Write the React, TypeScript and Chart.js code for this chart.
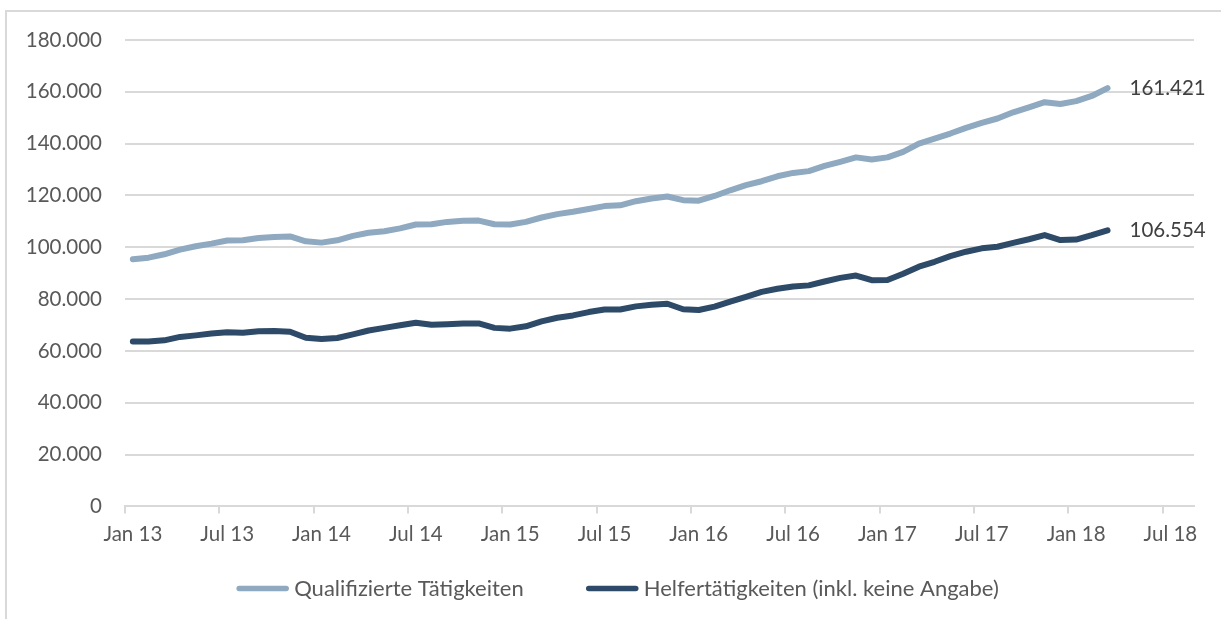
import React, { useEffect, useRef } from 'react';
import { Chart, registerables } from 'chart.js';

Chart.register(...registerables);

const MONTHS = ['Jan', 'Feb', 'Mär', 'Apr', 'Mai', 'Jun', 'Jul', 'Aug', 'Sep', 'Okt', 'Nov', 'Dez'];
const YEARS = ['13', '14', '15', '16', '17', '18'];
const CATEGORY_COUNT = 68; // Jan 13 .. Aug 18

const CATEGORIES: string[] = [];
for (const y of YEARS) {
  for (const m of MONTHS) {
    if (CATEGORIES.length < CATEGORY_COUNT) CATEGORIES.push(`${m} ${y}`);
  }
}

const SERIES_NAMES = ['Qualifizierte Tätigkeiten', 'Helfertätigkeiten (inkl. keine Angabe)'];

const QUALIFIZIERT = [
  95400, 96000, 97300, 99100, 100400, 101400, 102600, 102700, 103600, 104000, 104200, 102300,
  101800, 102700, 104400, 105600, 106200, 107300, 108800, 108900, 109800, 110200, 110300, 108900,
  108800, 109800, 111500, 112800, 113700, 114800, 115900, 116200, 117800, 118800, 119600, 118200,
  118000, 119800, 122000, 124000, 125500, 127400, 128700, 129400, 131400, 133000, 134700, 133900,
  134700, 136800, 140000, 141900, 143900, 146100, 148000, 149700, 152100, 154000, 156000, 155300,
  156400, 158400, 161421,
];

const HELFER = [
  63600, 63600, 64100, 65400, 66000, 66700, 67200, 67000, 67600, 67700, 67400, 65100,
  64600, 65000, 66400, 67900, 68900, 69900, 70900, 70100, 70300, 70600, 70600, 68900,
  68600, 69500, 71400, 72800, 73700, 75000, 76000, 76000, 77200, 77800, 78200, 76100,
  75800, 77100, 79000, 80900, 82800, 84000, 84900, 85300, 86800, 88200, 89100, 87300,
  87400, 89800, 92500, 94400, 96600, 98300, 99600, 100200, 101700, 103100, 104700, 102800,
  103000, 104700, 106554,
];

const Y_MIN = 0;
const Y_MAX = 180000;
const Y_STEP = 20000;

const COLORS = ['#8fa9c0', '#2d4a68'];
const FONT_FAMILY = 'Lato, "Open Sans", sans-serif';
const FONT_SIZE = 20.5;
const LEGEND_FONT_SIZE = 22;
const TEXT_COLOR = '#595959';
const GRID_COLOR = '#d9d9d9';

const fmt = (n: number) => String(Math.round(n)).replace(/\B(?=(\d{3})+(?!\d))/g, '.');

const endLabelPlugin = {
  id: 'endLabels',
  afterDatasetsDraw(chart: any) {
    const ctx = chart.ctx;
    ctx.save();
    ctx.font = `${FONT_SIZE}px ${FONT_FAMILY}`;
    ctx.fillStyle = '#404040';
    ctx.textAlign = 'left';
    ctx.textBaseline = 'middle';
    chart.data.datasets.forEach((ds: any, i: number) => {
      const meta = chart.getDatasetMeta(i);
      const last = meta.data[meta.data.length - 1];
      if (!last) return;
      ctx.fillText(fmt(ds.data[ds.data.length - 1]), last.x + 22, last.y);
    });
    ctx.restore();
  },
};

const legendPlugin = {
  id: 'customLegend',
  afterDraw(chart: any) {
    const ctx = chart.ctx;
    ctx.save();
    ctx.font = `${LEGEND_FONT_SIZE}px ${FONT_FAMILY}`;
    ctx.textBaseline = 'middle';
    ctx.textAlign = 'left';
    const lineLen = 53;
    const gap = 5;
    const itemGap = 62;
    const widths = SERIES_NAMES.map((t) => ctx.measureText(t).width);
    const total = widths.reduce((a: number, w: number) => a + lineLen + gap + w, 0) + itemGap * (SERIES_NAMES.length - 1);
    let x = chart.width / 2 + 7 - total / 2;
    const y = chart.chartArea.bottom + 82;
    SERIES_NAMES.forEach((name, i) => {
      ctx.strokeStyle = COLORS[i];
      ctx.lineWidth = 5.5;
      ctx.lineCap = 'round';
      ctx.beginPath();
      ctx.moveTo(x + 3, y);
      ctx.lineTo(x + lineLen - 3, y);
      ctx.stroke();
      ctx.fillStyle = TEXT_COLOR;
      ctx.fillText(name, x + lineLen + gap, y + 1);
      x += lineLen + gap + widths[i] + itemGap;
    });
    ctx.restore();
  },
};

export default function App() {
  const canvasRef = useRef<HTMLCanvasElement | null>(null);

  useEffect(() => {
    if (!canvasRef.current) return;
    const chart = new Chart(canvasRef.current, {
      type: 'line',
      data: {
        labels: CATEGORIES,
        datasets: [
          {
            label: SERIES_NAMES[0],
            data: QUALIFIZIERT,
            borderColor: COLORS[0],
            backgroundColor: COLORS[0],
            borderWidth: 6,
            pointRadius: 0,
            tension: 0,
            borderCapStyle: 'round',
            borderJoinStyle: 'round',
          },
          {
            label: SERIES_NAMES[1],
            data: HELFER,
            borderColor: COLORS[1],
            backgroundColor: COLORS[1],
            borderWidth: 6,
            pointRadius: 0,
            tension: 0,
            borderCapStyle: 'round',
            borderJoinStyle: 'round',
          },
        ],
      },
      options: {
        responsive: false,
        animation: false,
        events: [],
        layout: { padding: { left: 0, right: 27, top: 40, bottom: 63 } },
        plugins: {
          legend: { display: false },
          tooltip: { enabled: false },
        },
        scales: {
          x: {
            type: 'category',
            offset: true,
            grid: {
              offset: true,
              drawOnChartArea: false,
              drawTicks: true,
              tickLength: 7,
              lineWidth: 2,
              color: (c: any) => (c.index % 6 === 0 ? GRID_COLOR : 'rgba(0,0,0,0)'),
            },
            border: { display: true, color: GRID_COLOR, width: 2 },
            ticks: {
              autoSkip: false,
              maxRotation: 0,
              minRotation: 0,
              padding: 9,
              color: TEXT_COLOR,
              font: { family: FONT_FAMILY, size: FONT_SIZE },
              callback: (_v: any, i: number) => {
                const lbl = CATEGORIES[i];
                return lbl.startsWith('Jan') || lbl.startsWith('Jul') ? lbl : '';
              },
            },
          },
          y: {
            min: Y_MIN,
            max: Y_MAX,
            afterFit: (scale: any) => {
              scale.width = 125;
            },
            grid: { color: GRID_COLOR, lineWidth: 2, drawTicks: false },
            border: { display: false },
            ticks: {
              stepSize: Y_STEP,
              padding: 23,
              color: TEXT_COLOR,
              font: { family: FONT_FAMILY, size: FONT_SIZE },
              callback: (v: any) => fmt(Number(v)),
            },
          },
        },
      },
      plugins: [endLabelPlugin, legendPlugin],
    });
    return () => chart.destroy();
  }, []);

  return (
    <div style={{ position: 'absolute', left: 0, top: 0, width: 1221, height: 619, overflow: 'hidden', background: '#fff' }}>
      <div
        style={{
          position: 'absolute',
          left: 5,
          top: 10,
          width: 1400,
          height: 800,
          border: '2px solid #d9d9d9',
          boxSizing: 'border-box',
        }}
      />
      <canvas ref={canvasRef} width={1221} height={619} style={{ position: 'absolute', left: 0, top: 0 }} />
    </div>
  );
}
